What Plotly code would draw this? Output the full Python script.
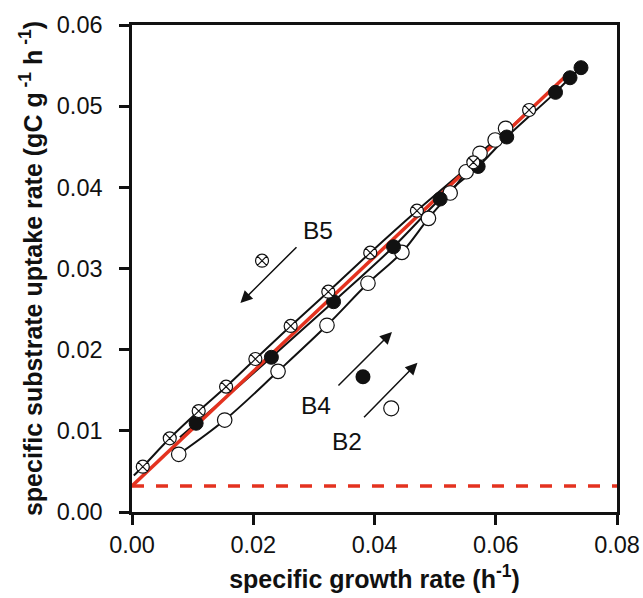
import plotly.graph_objects as go

# B5 (circle with cross), decreasing growth rate
b5_x = [0.00178, 0.00623, 0.0110, 0.01552, 0.02035, 0.02617, 0.03238, 0.0393, 0.0470, 0.0563, 0.0655]
b5_y = [0.00558, 0.00908, 0.01244, 0.01544, 0.01885, 0.02292, 0.02714, 0.03195, 0.03712, 0.04308, 0.04953]
b5_line_start = (0.0003, 0.0045)

# B4 (filled circles)
b4_x = [0.01058, 0.02299, 0.03325, 0.04314, 0.05083, 0.0571, 0.06182, 0.06986, 0.07225, 0.07406]
b4_y = [0.01093, 0.01906, 0.02591, 0.03268, 0.03856, 0.04257, 0.0462, 0.0517, 0.0535, 0.05474]
b4_line_start = (0.0079, 0.0092)

# B2 (open circles)
b2_x = [0.00771, 0.01529, 0.02409, 0.03216, 0.03892, 0.04452, 0.0489, 0.05248, 0.05512, 0.0574, 0.0599, 0.06162]
b2_y = [0.00711, 0.01133, 0.01733, 0.02300, 0.02818, 0.03199, 0.03618, 0.0393, 0.04192, 0.04419, 0.04583, 0.04727]

# model lines
fit_x = [0.0, 0.072]
fit_intercept = 0.0032
fit_slope = 0.706
maint_x = [0.0, 0.08]
maint_y = 0.0032

x_ticks = [0.00, 0.02, 0.04, 0.06, 0.08]
y_ticks = [0.00, 0.01, 0.02, 0.03, 0.04, 0.05, 0.06]

RED = "#e4321f"
BLACK = "#111111"
FONT = "Liberation Sans, Arial"

fig = go.Figure()

fig.add_trace(go.Scatter(x=maint_x, y=[maint_y] * len(maint_x), mode="lines",
                         line=dict(color=RED, width=3.5, dash="12px,12px"), showlegend=False))

# black smoothed curves
fig.add_trace(go.Scatter(x=[b5_line_start[0]] + b5_x, y=[b5_line_start[1]] + b5_y, mode="lines",
                         line=dict(color=BLACK, width=2, shape="spline"), showlegend=False))
fig.add_trace(go.Scatter(x=[b4_line_start[0]] + b4_x, y=[b4_line_start[1]] + b4_y, mode="lines",
                         line=dict(color=BLACK, width=2, shape="spline"), showlegend=False))
fig.add_trace(go.Scatter(x=b2_x, y=b2_y, mode="lines",
                         line=dict(color=BLACK, width=2, shape="spline"), showlegend=False))

# red fit line
fig.add_trace(go.Scatter(x=fit_x, y=[fit_intercept + fit_slope * v for v in fit_x], mode="lines",
                         line=dict(color=RED, width=3.5), showlegend=False))

# markers
fig.add_trace(go.Scatter(x=b2_x, y=b2_y, mode="markers",
                         marker=dict(symbol="circle", size=14.5, color="white",
                                     line=dict(color=BLACK, width=1.2)), showlegend=False))
fig.add_trace(go.Scatter(x=b4_x, y=b4_y, mode="markers",
                         marker=dict(symbol="circle", size=14, color=BLACK,
                                     line=dict(color=BLACK, width=1)), showlegend=False))
fig.add_trace(go.Scatter(x=b5_x, y=b5_y, mode="markers",
                         marker=dict(symbol="circle-x", size=13, color="white",
                                     line=dict(color=BLACK, width=1.2)), showlegend=False))

# legend-like key markers
key_x = [0.02145, 0.03810, 0.04276]
key_y = [0.03096, 0.01667, 0.01277]
fig.add_trace(go.Scatter(x=[key_x[0]], y=[key_y[0]], mode="markers",
                         marker=dict(symbol="circle-x", size=13, color="white",
                                     line=dict(color=BLACK, width=1.2)), showlegend=False))
fig.add_trace(go.Scatter(x=[key_x[1]], y=[key_y[1]], mode="markers",
                         marker=dict(symbol="circle", size=15, color=BLACK), showlegend=False))
fig.add_trace(go.Scatter(x=[key_x[2]], y=[key_y[2]], mode="markers",
                         marker=dict(symbol="circle", size=15, color="white",
                                     line=dict(color=BLACK, width=1.2)), showlegend=False))

# arrows (tail -> head)
arrows = [
    ((0.02738, 0.03281), (0.01788, 0.02574)),
    ((0.03381, 0.01540), (0.04288, 0.02218)),
    ((0.03803, 0.01149), (0.04709, 0.01838)),
]
for (tx, ty), (hx, hy) in arrows:
    fig.add_annotation(x=hx, y=hy, ax=tx, ay=ty, xref="x", yref="y", axref="x", ayref="y",
                       showarrow=True, arrowhead=2, arrowsize=1.6, arrowwidth=1.5,
                       arrowcolor=BLACK, text="")

labels = [("B5", 0.03073, 0.03474), ("B4", 0.03040, 0.01318), ("B2", 0.03546, 0.00866)]
for t, lx, ly in labels:
    fig.add_annotation(x=lx, y=ly, xref="x", yref="y", text=t, showarrow=False,
                       font=dict(size=24.5, color=BLACK, family=FONT))

axis_common = dict(showline=True, linecolor=BLACK, linewidth=2.5, mirror=True,
                   ticks="outside", ticklen=10, tickwidth=2.5, tickcolor=BLACK,
                   showgrid=False, zeroline=False, automargin=False,
                   tickfont=dict(size=23.5, color=BLACK, family=FONT))

fig.update_xaxes(range=[0, 0.08], tickvals=x_ticks, ticktext=[f"{v:.2f}" for v in x_ticks],
                 ticklabelstandoff=0,
                 title=dict(text="<b>specific growth rate (h<sup>-1</sup>)</b>",
                            font=dict(size=25, color=BLACK, family=FONT),
                            standoff=14),
                 **axis_common)
fig.update_yaxes(range=[0, 0.06], tickvals=y_ticks, ticktext=[f"{v:.2f}" for v in y_ticks],
                 ticklabelstandoff=12,
                 title=dict(text="<b>specific substrate uptake rate (gC g<sup> -1</sup> h<sup> -1</sup>)</b>",
                            font=dict(size=25, color=BLACK, family=FONT),
                            standoff=8),
                 **axis_common)

fig.update_layout(width=643, height=598, margin=dict(l=131.5, r=26, t=25, b=86),
                  plot_bgcolor="white", paper_bgcolor="white", showlegend=False)

# remove the default page margin so the figure fills the window exactly
fig.write_html("out.html", config={"displayModeBar": False},
               post_script="document.body.style.margin='0';document.body.style.overflow='hidden';")
